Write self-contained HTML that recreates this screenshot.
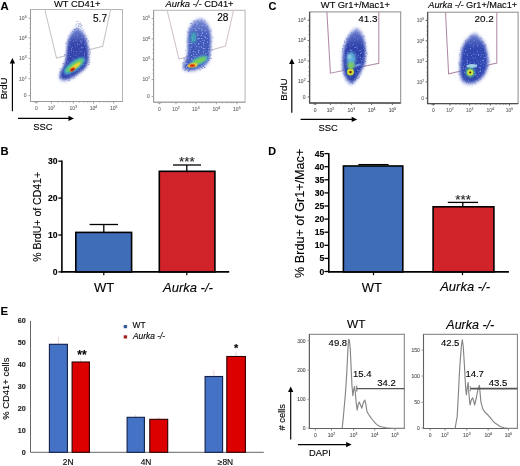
<!DOCTYPE html>
<html><head><meta charset="utf-8"><title>Figure</title>
<style>
html,body{margin:0;padding:0;background:#fff;}
body{width:520px;height:466px;overflow:hidden;}
svg{display:block;filter:blur(0.3px);}
text{font-family:"Liberation Sans", sans-serif;}
</style></head>
<body>
<svg width="520" height="466" viewBox="0 0 520 466">
<rect width="520" height="466" fill="#fff"/>
<text x="0.6" y="9.5" font-size="11.3" font-weight="bold" fill="#000" stroke="#000" stroke-width="0.12">A</text>
<text x="0.6" y="155.0" font-size="11.2" font-weight="bold" fill="#000" stroke="#000" stroke-width="0.12">B</text>
<text x="268.6" y="10.3" font-size="11" font-weight="bold" fill="#000" stroke="#000" stroke-width="0.12">C</text>
<text x="268.2" y="155.3" font-size="10.8" font-weight="bold" fill="#000" stroke="#000" stroke-width="0.12">D</text>
<text x="0.6" y="315.2" font-size="11.4" font-weight="bold" fill="#000" stroke="#000" stroke-width="0.12">E</text>
<rect x="30.5" y="9.5" width="92.0" height="92.0" fill="none" stroke="#b4b4b4" stroke-width="1"/>
<polyline points="30.5,9.5 30.5,101.5 122.5,101.5" fill="none" stroke="#9a9a9a" stroke-width="1.0"/>
<text x="22.8" y="20.0" font-size="5.0" fill="#707070" text-anchor="middle" stroke="#707070" stroke-width="0.12">10<tspan font-size="3.40" dy="-2">5</tspan></text>
<line x1="28.5" y1="18.2" x2="30.5" y2="18.2" stroke="#999" stroke-width="0.9"/>
<text x="22.8" y="39.699999999999996" font-size="5.0" fill="#707070" text-anchor="middle" stroke="#707070" stroke-width="0.12">10<tspan font-size="3.40" dy="-2">4</tspan></text>
<line x1="28.5" y1="37.9" x2="30.5" y2="37.9" stroke="#999" stroke-width="0.9"/>
<text x="22.8" y="60.099999999999994" font-size="5.0" fill="#707070" text-anchor="middle" stroke="#707070" stroke-width="0.12">10<tspan font-size="3.40" dy="-2">3</tspan></text>
<line x1="28.5" y1="58.3" x2="30.5" y2="58.3" stroke="#999" stroke-width="0.9"/>
<text x="22.8" y="80.5" font-size="5.0" fill="#707070" text-anchor="middle" stroke="#707070" stroke-width="0.12">10<tspan font-size="3.40" dy="-2">2</tspan></text>
<line x1="28.5" y1="78.7" x2="30.5" y2="78.7" stroke="#999" stroke-width="0.9"/>
<text x="25.1" y="97.39999999999999" font-size="5.0" fill="#707070" text-anchor="middle" stroke="#707070" stroke-width="0.12">0</text>
<line x1="28.5" y1="95.6" x2="30.5" y2="95.6" stroke="#999" stroke-width="0.9"/>
<line x1="29.3" y1="24.1" x2="30.5" y2="24.1" stroke="#999" stroke-width="0.6"/>
<line x1="29.3" y1="28.4" x2="30.5" y2="28.4" stroke="#999" stroke-width="0.6"/>
<line x1="29.3" y1="32.0" x2="30.5" y2="32.0" stroke="#999" stroke-width="0.6"/>
<line x1="29.3" y1="44.0" x2="30.5" y2="44.0" stroke="#999" stroke-width="0.6"/>
<line x1="29.3" y1="48.5" x2="30.5" y2="48.5" stroke="#999" stroke-width="0.6"/>
<line x1="29.3" y1="52.2" x2="30.5" y2="52.2" stroke="#999" stroke-width="0.6"/>
<line x1="29.3" y1="64.4" x2="30.5" y2="64.4" stroke="#999" stroke-width="0.6"/>
<line x1="29.3" y1="68.9" x2="30.5" y2="68.9" stroke="#999" stroke-width="0.6"/>
<line x1="29.3" y1="72.6" x2="30.5" y2="72.6" stroke="#999" stroke-width="0.6"/>
<text x="36.3" y="110.39999999999999" font-size="5.0" fill="#707070" text-anchor="middle" stroke="#707070" stroke-width="0.12">0</text>
<line x1="36.3" y1="101.5" x2="36.3" y2="103.5" stroke="#999" stroke-width="0.9"/>
<text x="51.4" y="110.39999999999999" font-size="5.0" fill="#707070" text-anchor="middle" stroke="#707070" stroke-width="0.12">10<tspan font-size="3.40" dy="-2">2</tspan></text>
<line x1="51.4" y1="101.5" x2="51.4" y2="103.5" stroke="#999" stroke-width="0.9"/>
<text x="73.3" y="110.39999999999999" font-size="5.0" fill="#707070" text-anchor="middle" stroke="#707070" stroke-width="0.12">10<tspan font-size="3.40" dy="-2">3</tspan></text>
<line x1="73.3" y1="101.5" x2="73.3" y2="103.5" stroke="#999" stroke-width="0.9"/>
<text x="93.5" y="110.39999999999999" font-size="5.0" fill="#707070" text-anchor="middle" stroke="#707070" stroke-width="0.12">10<tspan font-size="3.40" dy="-2">4</tspan></text>
<line x1="93.5" y1="101.5" x2="93.5" y2="103.5" stroke="#999" stroke-width="0.9"/>
<text x="113.7" y="110.39999999999999" font-size="5.0" fill="#707070" text-anchor="middle" stroke="#707070" stroke-width="0.12">10<tspan font-size="3.40" dy="-2">5</tspan></text>
<line x1="113.7" y1="101.5" x2="113.7" y2="103.5" stroke="#999" stroke-width="0.9"/>
<line x1="58.0" y1="101.5" x2="58.0" y2="102.7" stroke="#999" stroke-width="0.6"/>
<line x1="62.8" y1="101.5" x2="62.8" y2="102.7" stroke="#999" stroke-width="0.6"/>
<line x1="66.7" y1="101.5" x2="66.7" y2="102.7" stroke="#999" stroke-width="0.6"/>
<line x1="69.4" y1="101.5" x2="69.4" y2="102.7" stroke="#999" stroke-width="0.6"/>
<line x1="79.4" y1="101.5" x2="79.4" y2="102.7" stroke="#999" stroke-width="0.6"/>
<line x1="83.8" y1="101.5" x2="83.8" y2="102.7" stroke="#999" stroke-width="0.6"/>
<line x1="87.4" y1="101.5" x2="87.4" y2="102.7" stroke="#999" stroke-width="0.6"/>
<line x1="89.9" y1="101.5" x2="89.9" y2="102.7" stroke="#999" stroke-width="0.6"/>
<line x1="99.6" y1="101.5" x2="99.6" y2="102.7" stroke="#999" stroke-width="0.6"/>
<line x1="104.0" y1="101.5" x2="104.0" y2="102.7" stroke="#999" stroke-width="0.6"/>
<line x1="107.6" y1="101.5" x2="107.6" y2="102.7" stroke="#999" stroke-width="0.6"/>
<line x1="110.1" y1="101.5" x2="110.1" y2="102.7" stroke="#999" stroke-width="0.6"/>
<line x1="34.8" y1="101.5" x2="34.8" y2="102.9" stroke="#999" stroke-width="0.6"/>
<line x1="35.7" y1="101.5" x2="35.7" y2="102.9" stroke="#999" stroke-width="0.6"/>
<line x1="36.6" y1="101.5" x2="36.6" y2="102.9" stroke="#999" stroke-width="0.6"/>
<line x1="37.5" y1="101.5" x2="37.5" y2="102.9" stroke="#999" stroke-width="0.6"/>
<polyline points="44.8,9.5 56.5,58.1 102.7,46.2 110.6,9.5" fill="none" stroke="#c4c4c4" stroke-width="1.05"/>
<rect x="153.6" y="10.3" width="91.5" height="91.9" fill="none" stroke="#b4b4b4" stroke-width="1"/>
<polyline points="153.6,10.3 153.6,102.2 245.1,102.2" fill="none" stroke="#9a9a9a" stroke-width="1.0"/>
<text x="146.2" y="20.400000000000002" font-size="5.0" fill="#707070" text-anchor="middle" stroke="#707070" stroke-width="0.12">10<tspan font-size="3.40" dy="-2">5</tspan></text>
<line x1="151.6" y1="18.6" x2="153.6" y2="18.6" stroke="#999" stroke-width="0.9"/>
<text x="146.2" y="40.599999999999994" font-size="5.0" fill="#707070" text-anchor="middle" stroke="#707070" stroke-width="0.12">10<tspan font-size="3.40" dy="-2">4</tspan></text>
<line x1="151.6" y1="38.8" x2="153.6" y2="38.8" stroke="#999" stroke-width="0.9"/>
<text x="146.2" y="61.0" font-size="5.0" fill="#707070" text-anchor="middle" stroke="#707070" stroke-width="0.12">10<tspan font-size="3.40" dy="-2">3</tspan></text>
<line x1="151.6" y1="59.2" x2="153.6" y2="59.2" stroke="#999" stroke-width="0.9"/>
<text x="146.2" y="81.39999999999999" font-size="5.0" fill="#707070" text-anchor="middle" stroke="#707070" stroke-width="0.12">10<tspan font-size="3.40" dy="-2">2</tspan></text>
<line x1="151.6" y1="79.6" x2="153.6" y2="79.6" stroke="#999" stroke-width="0.9"/>
<text x="148.5" y="98.2" font-size="5.0" fill="#707070" text-anchor="middle" stroke="#707070" stroke-width="0.12">0</text>
<line x1="151.6" y1="96.4" x2="153.6" y2="96.4" stroke="#999" stroke-width="0.9"/>
<line x1="152.4" y1="24.7" x2="153.6" y2="24.7" stroke="#999" stroke-width="0.6"/>
<line x1="152.4" y1="29.1" x2="153.6" y2="29.1" stroke="#999" stroke-width="0.6"/>
<line x1="152.4" y1="32.7" x2="153.6" y2="32.7" stroke="#999" stroke-width="0.6"/>
<line x1="152.4" y1="44.9" x2="153.6" y2="44.9" stroke="#999" stroke-width="0.6"/>
<line x1="152.4" y1="49.4" x2="153.6" y2="49.4" stroke="#999" stroke-width="0.6"/>
<line x1="152.4" y1="53.1" x2="153.6" y2="53.1" stroke="#999" stroke-width="0.6"/>
<line x1="152.4" y1="65.3" x2="153.6" y2="65.3" stroke="#999" stroke-width="0.6"/>
<line x1="152.4" y1="69.8" x2="153.6" y2="69.8" stroke="#999" stroke-width="0.6"/>
<line x1="152.4" y1="73.5" x2="153.6" y2="73.5" stroke="#999" stroke-width="0.6"/>
<text x="159.5" y="111.1" font-size="5.0" fill="#707070" text-anchor="middle" stroke="#707070" stroke-width="0.12">0</text>
<line x1="159.5" y1="102.2" x2="159.5" y2="104.2" stroke="#999" stroke-width="0.9"/>
<text x="176.0" y="111.1" font-size="5.0" fill="#707070" text-anchor="middle" stroke="#707070" stroke-width="0.12">10<tspan font-size="3.40" dy="-2">2</tspan></text>
<line x1="176.0" y1="102.2" x2="176.0" y2="104.2" stroke="#999" stroke-width="0.9"/>
<text x="195.8" y="111.1" font-size="5.0" fill="#707070" text-anchor="middle" stroke="#707070" stroke-width="0.12">10<tspan font-size="3.40" dy="-2">3</tspan></text>
<line x1="195.8" y1="102.2" x2="195.8" y2="104.2" stroke="#999" stroke-width="0.9"/>
<text x="216.3" y="111.1" font-size="5.0" fill="#707070" text-anchor="middle" stroke="#707070" stroke-width="0.12">10<tspan font-size="3.40" dy="-2">4</tspan></text>
<line x1="216.3" y1="102.2" x2="216.3" y2="104.2" stroke="#999" stroke-width="0.9"/>
<text x="236.8" y="111.1" font-size="5.0" fill="#707070" text-anchor="middle" stroke="#707070" stroke-width="0.12">10<tspan font-size="3.40" dy="-2">5</tspan></text>
<line x1="236.8" y1="102.2" x2="236.8" y2="104.2" stroke="#999" stroke-width="0.9"/>
<line x1="181.9" y1="102.2" x2="181.9" y2="103.4" stroke="#999" stroke-width="0.6"/>
<line x1="186.3" y1="102.2" x2="186.3" y2="103.4" stroke="#999" stroke-width="0.6"/>
<line x1="189.9" y1="102.2" x2="189.9" y2="103.4" stroke="#999" stroke-width="0.6"/>
<line x1="192.2" y1="102.2" x2="192.2" y2="103.4" stroke="#999" stroke-width="0.6"/>
<line x1="202.0" y1="102.2" x2="202.0" y2="103.4" stroke="#999" stroke-width="0.6"/>
<line x1="206.5" y1="102.2" x2="206.5" y2="103.4" stroke="#999" stroke-width="0.6"/>
<line x1="210.2" y1="102.2" x2="210.2" y2="103.4" stroke="#999" stroke-width="0.6"/>
<line x1="212.6" y1="102.2" x2="212.6" y2="103.4" stroke="#999" stroke-width="0.6"/>
<line x1="222.5" y1="102.2" x2="222.5" y2="103.4" stroke="#999" stroke-width="0.6"/>
<line x1="227.0" y1="102.2" x2="227.0" y2="103.4" stroke="#999" stroke-width="0.6"/>
<line x1="230.7" y1="102.2" x2="230.7" y2="103.4" stroke="#999" stroke-width="0.6"/>
<line x1="233.1" y1="102.2" x2="233.1" y2="103.4" stroke="#999" stroke-width="0.6"/>
<line x1="158.0" y1="102.2" x2="158.0" y2="103.60000000000001" stroke="#999" stroke-width="0.6"/>
<line x1="158.9" y1="102.2" x2="158.9" y2="103.60000000000001" stroke="#999" stroke-width="0.6"/>
<line x1="159.8" y1="102.2" x2="159.8" y2="103.60000000000001" stroke="#999" stroke-width="0.6"/>
<line x1="160.7" y1="102.2" x2="160.7" y2="103.60000000000001" stroke="#999" stroke-width="0.6"/>
<polyline points="167.2,10.3 178.9,59 225.5,46 233.5,10.3" fill="none" stroke="#d2c2ce" stroke-width="1.05"/>
<rect x="309.6" y="11.9" width="91.09999999999997" height="91.1" fill="none" stroke="#8a8a8a" stroke-width="1"/>
<polyline points="309.6,11.9 309.6,103.0 400.7,103.0" fill="none" stroke="#505050" stroke-width="1.3"/>
<text x="301.8" y="22.0" font-size="5.0" fill="#606060" text-anchor="middle" stroke="#606060" stroke-width="0.12">10<tspan font-size="3.40" dy="-2">5</tspan></text>
<line x1="307.6" y1="20.2" x2="309.6" y2="20.2" stroke="#555" stroke-width="0.9"/>
<text x="301.8" y="42.4" font-size="5.0" fill="#606060" text-anchor="middle" stroke="#606060" stroke-width="0.12">10<tspan font-size="3.40" dy="-2">4</tspan></text>
<line x1="307.6" y1="40.6" x2="309.6" y2="40.6" stroke="#555" stroke-width="0.9"/>
<text x="301.8" y="62.8" font-size="5.0" fill="#606060" text-anchor="middle" stroke="#606060" stroke-width="0.12">10<tspan font-size="3.40" dy="-2">3</tspan></text>
<line x1="307.6" y1="61.0" x2="309.6" y2="61.0" stroke="#555" stroke-width="0.9"/>
<text x="301.8" y="83.3" font-size="5.0" fill="#606060" text-anchor="middle" stroke="#606060" stroke-width="0.12">10<tspan font-size="3.40" dy="-2">2</tspan></text>
<line x1="307.6" y1="81.5" x2="309.6" y2="81.5" stroke="#555" stroke-width="0.9"/>
<text x="304.1" y="98.7" font-size="5.0" fill="#606060" text-anchor="middle" stroke="#606060" stroke-width="0.12">0</text>
<line x1="307.6" y1="96.9" x2="309.6" y2="96.9" stroke="#555" stroke-width="0.9"/>
<line x1="308.40000000000003" y1="26.3" x2="309.6" y2="26.3" stroke="#555" stroke-width="0.6"/>
<line x1="308.40000000000003" y1="30.8" x2="309.6" y2="30.8" stroke="#555" stroke-width="0.6"/>
<line x1="308.40000000000003" y1="34.5" x2="309.6" y2="34.5" stroke="#555" stroke-width="0.6"/>
<line x1="308.40000000000003" y1="46.7" x2="309.6" y2="46.7" stroke="#555" stroke-width="0.6"/>
<line x1="308.40000000000003" y1="51.2" x2="309.6" y2="51.2" stroke="#555" stroke-width="0.6"/>
<line x1="308.40000000000003" y1="54.9" x2="309.6" y2="54.9" stroke="#555" stroke-width="0.6"/>
<line x1="308.40000000000003" y1="67.2" x2="309.6" y2="67.2" stroke="#555" stroke-width="0.6"/>
<line x1="308.40000000000003" y1="71.7" x2="309.6" y2="71.7" stroke="#555" stroke-width="0.6"/>
<line x1="308.40000000000003" y1="75.3" x2="309.6" y2="75.3" stroke="#555" stroke-width="0.6"/>
<text x="315.2" y="112.2" font-size="5.0" fill="#606060" text-anchor="middle" stroke="#606060" stroke-width="0.12">0</text>
<line x1="315.2" y1="103.0" x2="315.2" y2="105.0" stroke="#555" stroke-width="0.9"/>
<text x="330.4" y="112.2" font-size="5.0" fill="#606060" text-anchor="middle" stroke="#606060" stroke-width="0.12">10<tspan font-size="3.40" dy="-2">2</tspan></text>
<line x1="330.4" y1="103.0" x2="330.4" y2="105.0" stroke="#555" stroke-width="0.9"/>
<text x="351.3" y="112.2" font-size="5.0" fill="#606060" text-anchor="middle" stroke="#606060" stroke-width="0.12">10<tspan font-size="3.40" dy="-2">3</tspan></text>
<line x1="351.3" y1="103.0" x2="351.3" y2="105.0" stroke="#555" stroke-width="0.9"/>
<text x="371.6" y="112.2" font-size="5.0" fill="#606060" text-anchor="middle" stroke="#606060" stroke-width="0.12">10<tspan font-size="3.40" dy="-2">4</tspan></text>
<line x1="371.6" y1="103.0" x2="371.6" y2="105.0" stroke="#555" stroke-width="0.9"/>
<text x="392.4" y="112.2" font-size="5.0" fill="#606060" text-anchor="middle" stroke="#606060" stroke-width="0.12">10<tspan font-size="3.40" dy="-2">5</tspan></text>
<line x1="392.4" y1="103.0" x2="392.4" y2="105.0" stroke="#555" stroke-width="0.9"/>
<line x1="336.7" y1="103.0" x2="336.7" y2="104.2" stroke="#555" stroke-width="0.6"/>
<line x1="341.3" y1="103.0" x2="341.3" y2="104.2" stroke="#555" stroke-width="0.6"/>
<line x1="345.0" y1="103.0" x2="345.0" y2="104.2" stroke="#555" stroke-width="0.6"/>
<line x1="347.5" y1="103.0" x2="347.5" y2="104.2" stroke="#555" stroke-width="0.6"/>
<line x1="357.4" y1="103.0" x2="357.4" y2="104.2" stroke="#555" stroke-width="0.6"/>
<line x1="361.9" y1="103.0" x2="361.9" y2="104.2" stroke="#555" stroke-width="0.6"/>
<line x1="365.5" y1="103.0" x2="365.5" y2="104.2" stroke="#555" stroke-width="0.6"/>
<line x1="367.9" y1="103.0" x2="367.9" y2="104.2" stroke="#555" stroke-width="0.6"/>
<line x1="377.8" y1="103.0" x2="377.8" y2="104.2" stroke="#555" stroke-width="0.6"/>
<line x1="382.4" y1="103.0" x2="382.4" y2="104.2" stroke="#555" stroke-width="0.6"/>
<line x1="386.2" y1="103.0" x2="386.2" y2="104.2" stroke="#555" stroke-width="0.6"/>
<line x1="388.7" y1="103.0" x2="388.7" y2="104.2" stroke="#555" stroke-width="0.6"/>
<line x1="313.7" y1="103.0" x2="313.7" y2="104.4" stroke="#555" stroke-width="0.6"/>
<line x1="314.6" y1="103.0" x2="314.6" y2="104.4" stroke="#555" stroke-width="0.6"/>
<line x1="315.5" y1="103.0" x2="315.5" y2="104.4" stroke="#555" stroke-width="0.6"/>
<line x1="316.4" y1="103.0" x2="316.4" y2="104.4" stroke="#555" stroke-width="0.6"/>
<polyline points="326.9,11.9 330.4,73.2 378.8,63.3 378.8,11.9" fill="none" stroke="#b08aa8" stroke-width="1.05"/>
<rect x="427.6" y="12.2" width="90.5" height="91.39999999999999" fill="none" stroke="#8a8a8a" stroke-width="1"/>
<polyline points="427.6,12.2 427.6,103.6 518.1,103.6" fill="none" stroke="#505050" stroke-width="1.3"/>
<text x="420.4" y="22.2" font-size="5.0" fill="#707070" text-anchor="middle" stroke="#707070" stroke-width="0.12">10<tspan font-size="3.40" dy="-2">5</tspan></text>
<line x1="425.6" y1="20.4" x2="427.6" y2="20.4" stroke="#555" stroke-width="0.9"/>
<text x="420.4" y="42.599999999999994" font-size="5.0" fill="#707070" text-anchor="middle" stroke="#707070" stroke-width="0.12">10<tspan font-size="3.40" dy="-2">4</tspan></text>
<line x1="425.6" y1="40.8" x2="427.6" y2="40.8" stroke="#555" stroke-width="0.9"/>
<text x="420.4" y="63.199999999999996" font-size="5.0" fill="#707070" text-anchor="middle" stroke="#707070" stroke-width="0.12">10<tspan font-size="3.40" dy="-2">3</tspan></text>
<line x1="425.6" y1="61.4" x2="427.6" y2="61.4" stroke="#555" stroke-width="0.9"/>
<text x="420.4" y="83.7" font-size="5.0" fill="#707070" text-anchor="middle" stroke="#707070" stroke-width="0.12">10<tspan font-size="3.40" dy="-2">2</tspan></text>
<line x1="425.6" y1="81.9" x2="427.6" y2="81.9" stroke="#555" stroke-width="0.9"/>
<text x="422.7" y="100.0" font-size="5.0" fill="#707070" text-anchor="middle" stroke="#707070" stroke-width="0.12">0</text>
<line x1="425.6" y1="98.2" x2="427.6" y2="98.2" stroke="#555" stroke-width="0.9"/>
<line x1="426.40000000000003" y1="26.5" x2="427.6" y2="26.5" stroke="#555" stroke-width="0.6"/>
<line x1="426.40000000000003" y1="31.0" x2="427.6" y2="31.0" stroke="#555" stroke-width="0.6"/>
<line x1="426.40000000000003" y1="34.7" x2="427.6" y2="34.7" stroke="#555" stroke-width="0.6"/>
<line x1="426.40000000000003" y1="47.0" x2="427.6" y2="47.0" stroke="#555" stroke-width="0.6"/>
<line x1="426.40000000000003" y1="51.5" x2="427.6" y2="51.5" stroke="#555" stroke-width="0.6"/>
<line x1="426.40000000000003" y1="55.2" x2="427.6" y2="55.2" stroke="#555" stroke-width="0.6"/>
<line x1="426.40000000000003" y1="67.5" x2="427.6" y2="67.5" stroke="#555" stroke-width="0.6"/>
<line x1="426.40000000000003" y1="72.1" x2="427.6" y2="72.1" stroke="#555" stroke-width="0.6"/>
<line x1="426.40000000000003" y1="75.8" x2="427.6" y2="75.8" stroke="#555" stroke-width="0.6"/>
<text x="433.3" y="112.2" font-size="5.0" fill="#707070" text-anchor="middle" stroke="#707070" stroke-width="0.12">0</text>
<line x1="433.3" y1="103.6" x2="433.3" y2="105.6" stroke="#555" stroke-width="0.9"/>
<text x="450.0" y="112.2" font-size="5.0" fill="#707070" text-anchor="middle" stroke="#707070" stroke-width="0.12">10<tspan font-size="3.40" dy="-2">2</tspan></text>
<line x1="450.0" y1="103.6" x2="450.0" y2="105.6" stroke="#555" stroke-width="0.9"/>
<text x="469.7" y="112.2" font-size="5.0" fill="#707070" text-anchor="middle" stroke="#707070" stroke-width="0.12">10<tspan font-size="3.40" dy="-2">3</tspan></text>
<line x1="469.7" y1="103.6" x2="469.7" y2="105.6" stroke="#555" stroke-width="0.9"/>
<text x="490.3" y="112.2" font-size="5.0" fill="#707070" text-anchor="middle" stroke="#707070" stroke-width="0.12">10<tspan font-size="3.40" dy="-2">4</tspan></text>
<line x1="490.3" y1="103.6" x2="490.3" y2="105.6" stroke="#555" stroke-width="0.9"/>
<text x="509.5" y="112.2" font-size="5.0" fill="#707070" text-anchor="middle" stroke="#707070" stroke-width="0.12">10<tspan font-size="3.40" dy="-2">5</tspan></text>
<line x1="509.5" y1="103.6" x2="509.5" y2="105.6" stroke="#555" stroke-width="0.9"/>
<line x1="455.9" y1="103.6" x2="455.9" y2="104.8" stroke="#555" stroke-width="0.6"/>
<line x1="460.2" y1="103.6" x2="460.2" y2="104.8" stroke="#555" stroke-width="0.6"/>
<line x1="463.8" y1="103.6" x2="463.8" y2="104.8" stroke="#555" stroke-width="0.6"/>
<line x1="466.2" y1="103.6" x2="466.2" y2="104.8" stroke="#555" stroke-width="0.6"/>
<line x1="475.9" y1="103.6" x2="475.9" y2="104.8" stroke="#555" stroke-width="0.6"/>
<line x1="480.4" y1="103.6" x2="480.4" y2="104.8" stroke="#555" stroke-width="0.6"/>
<line x1="484.1" y1="103.6" x2="484.1" y2="104.8" stroke="#555" stroke-width="0.6"/>
<line x1="486.6" y1="103.6" x2="486.6" y2="104.8" stroke="#555" stroke-width="0.6"/>
<line x1="496.1" y1="103.6" x2="496.1" y2="104.8" stroke="#555" stroke-width="0.6"/>
<line x1="500.3" y1="103.6" x2="500.3" y2="104.8" stroke="#555" stroke-width="0.6"/>
<line x1="503.7" y1="103.6" x2="503.7" y2="104.8" stroke="#555" stroke-width="0.6"/>
<line x1="506.0" y1="103.6" x2="506.0" y2="104.8" stroke="#555" stroke-width="0.6"/>
<line x1="431.8" y1="103.6" x2="431.8" y2="105.0" stroke="#555" stroke-width="0.6"/>
<line x1="432.7" y1="103.6" x2="432.7" y2="105.0" stroke="#555" stroke-width="0.6"/>
<line x1="433.6" y1="103.6" x2="433.6" y2="105.0" stroke="#555" stroke-width="0.6"/>
<line x1="434.5" y1="103.6" x2="434.5" y2="105.0" stroke="#555" stroke-width="0.6"/>
<polyline points="445.5,12.2 448.6,73.8 496.8,63 496.8,12.2" fill="none" stroke="#b08aa8" stroke-width="1.05"/>
<text x="54" y="7.4" font-size="9.4" fill="#000" stroke="#000" stroke-width="0.12">WT CD41+</text>
<text x="165.6" y="7.4" font-size="9.4" stroke="#000" stroke-width="0.12"><tspan font-style="italic">Aurka -/-</tspan> CD41+</text>
<text x="320.8" y="8.1" font-size="9.4" fill="#000" stroke="#000" stroke-width="0.12">WT Gr1+/Mac1+</text>
<text x="428.3" y="8.0" font-size="9.2" stroke="#000" stroke-width="0.12"><tspan font-style="italic">Aurka -/-</tspan> Gr1+/Mac1+</text>
<text x="93.0" y="21.5" font-size="10.1" fill="#000" stroke="#000" stroke-width="0.12">5.7</text>
<text x="217.2" y="21.4" font-size="10.1" fill="#000" stroke="#000" stroke-width="0.12">28</text>
<text x="358.2" y="22.3" font-size="9.9" fill="#000" stroke="#000" stroke-width="0.12">41.3</text>
<text x="474.6" y="22.2" font-size="9.9" fill="#000" stroke="#000" stroke-width="0.12">20.2</text>
<line x1="12.4" y1="111.2" x2="12.4" y2="63.0" stroke="#000" stroke-width="1.15"/>
<polygon points="12.4,58.0 9.7,63.5 15.100000000000001,63.5" fill="#000"/>
<line x1="18.0" y1="118.4" x2="69.0" y2="118.4" stroke="#000" stroke-width="1.15"/>
<polygon points="74.0,118.4 68.5,115.7 68.5,121.10000000000001" fill="#000"/>
<text transform="translate(7.3,88.4) rotate(-90)" font-size="9.6" text-anchor="middle" stroke="#000" stroke-width="0.12">BrdU</text>
<text x="42.9" y="130.0" font-size="9.4" text-anchor="middle" fill="#000" stroke="#000" stroke-width="0.12">SSC</text>
<line x1="291.8" y1="112.7" x2="291.8" y2="63.599999999999994" stroke="#000" stroke-width="1.15"/>
<polygon points="291.8,58.6 289.1,64.1 294.5,64.1" fill="#000"/>
<line x1="300.6" y1="119.4" x2="352.2" y2="119.4" stroke="#000" stroke-width="1.15"/>
<polygon points="357.2,119.4 351.7,116.7 351.7,122.10000000000001" fill="#000"/>
<text transform="translate(286.9,89.5) rotate(-90)" font-size="9.9" text-anchor="middle" stroke="#000" stroke-width="0.12">BrdU</text>
<text x="328.1" y="131.3" font-size="9.4" text-anchor="middle" fill="#000" stroke="#000" stroke-width="0.12">SSC</text>
<defs>
<filter id="b0" x="-50%" y="-50%" width="200%" height="200%"><feGaussianBlur stdDeviation="1.1"/></filter>
<filter id="b1" x="-50%" y="-50%" width="200%" height="200%"><feGaussianBlur stdDeviation="1.6"/></filter>
<filter id="b2" x="-50%" y="-50%" width="200%" height="200%"><feGaussianBlur stdDeviation="1.0"/></filter>
<filter id="spk" x="-30%" y="-30%" width="160%" height="160%" color-interpolation-filters="sRGB">
<feGaussianBlur in="SourceGraphic" stdDeviation="1.0" result="bl"/>
<feTurbulence type="fractalNoise" baseFrequency="0.6" numOctaves="2" seed="4" result="nz"/>
<feColorMatrix in="nz" type="matrix" values="0 0 0 0 0.56  0 0 0 0 0.62  0 0 0 0 0.90  0 0 0 -5 2.35" result="wn"/>
<feComposite in="wn" in2="bl" operator="in" result="wnc"/>
<feMerge><feMergeNode in="bl"/><feMergeNode in="wnc"/></feMerge>
</filter>
<filter id="spk2" x="-30%" y="-30%" width="160%" height="160%" color-interpolation-filters="sRGB">
<feGaussianBlur in="SourceGraphic" stdDeviation="1.2" result="bl"/>
<feTurbulence type="fractalNoise" baseFrequency="0.7" numOctaves="2" seed="9" result="nz"/>
<feColorMatrix in="nz" type="matrix" values="0 0 0 0 0.45  0 0 0 0 0.52  0 0 0 0 0.85  0 0 0 -6 2.5" result="wn"/>
<feComposite in="wn" in2="bl" operator="in" result="wnc"/>
<feMerge><feMergeNode in="bl"/><feMergeNode in="wnc"/></feMerge>
</filter>
<linearGradient id="gA1" gradientUnits="userSpaceOnUse" x1="0" y1="29" x2="0" y2="44"><stop offset="0" stop-color="#7082d0"/><stop offset="1" stop-color="#3444aa"/></linearGradient>
<linearGradient id="gA2" gradientUnits="userSpaceOnUse" x1="0" y1="19" x2="0" y2="36"><stop offset="0" stop-color="#7a8cd4"/><stop offset="1" stop-color="#4058b8"/></linearGradient>
<linearGradient id="gC1" gradientUnits="userSpaceOnUse" x1="0" y1="30" x2="0" y2="46"><stop offset="0" stop-color="#6a7ccc"/><stop offset="1" stop-color="#2f42aa"/></linearGradient>
<linearGradient id="gC2" gradientUnits="userSpaceOnUse" x1="0" y1="34" x2="0" y2="48"><stop offset="0" stop-color="#6a7ccc"/><stop offset="1" stop-color="#3046b0"/></linearGradient>
<filter id="b3" x="-50%" y="-50%" width="200%" height="200%"><feGaussianBlur stdDeviation="0.6"/></filter>
</defs>
<circle cx="68.6" cy="35.6" r="0.5" fill="#9aa6dc"/><circle cx="59.7" cy="72.0" r="0.5" fill="#7a88d0"/><circle cx="74.5" cy="29.4" r="0.5" fill="#5a6cc4"/><circle cx="87.9" cy="47.0" r="0.5" fill="#7a88d0"/><circle cx="66.0" cy="58.6" r="0.5" fill="#9aa6dc"/><circle cx="88.2" cy="50.3" r="0.5" fill="#9aa6dc"/><circle cx="69.3" cy="78.5" r="0.5" fill="#5a6cc4"/><circle cx="60.0" cy="69.1" r="0.5" fill="#7a88d0"/><circle cx="63.0" cy="63.2" r="0.5" fill="#7a88d0"/><circle cx="59.8" cy="76.2" r="0.5" fill="#9aa6dc"/><circle cx="71.0" cy="33.0" r="0.5" fill="#9aa6dc"/><circle cx="89.9" cy="51.3" r="0.5" fill="#7a88d0"/><circle cx="58.9" cy="74.9" r="0.5" fill="#9aa6dc"/><circle cx="89.0" cy="60.1" r="0.5" fill="#5a6cc4"/><circle cx="90.2" cy="52.7" r="0.5" fill="#5a6cc4"/><circle cx="88.9" cy="47.0" r="0.5" fill="#9aa6dc"/><circle cx="75.6" cy="28.9" r="0.5" fill="#9aa6dc"/><circle cx="74.8" cy="76.7" r="0.5" fill="#5a6cc4"/><circle cx="67.1" cy="41.5" r="0.5" fill="#9aa6dc"/><circle cx="69.4" cy="80.3" r="0.5" fill="#7a88d0"/><circle cx="89.5" cy="48.9" r="0.5" fill="#5a6cc4"/><circle cx="82.1" cy="32.0" r="0.5" fill="#7a88d0"/><circle cx="84.2" cy="35.3" r="0.5" fill="#9aa6dc"/><circle cx="89.5" cy="62.7" r="0.5" fill="#9aa6dc"/><circle cx="65.0" cy="54.6" r="0.5" fill="#9aa6dc"/><circle cx="68.6" cy="80.3" r="0.5" fill="#9aa6dc"/><circle cx="73.5" cy="78.5" r="0.5" fill="#9aa6dc"/><circle cx="86.9" cy="38.4" r="0.5" fill="#5a6cc4"/><circle cx="72.4" cy="31.3" r="0.5" fill="#7a88d0"/><circle cx="63.4" cy="63.7" r="0.5" fill="#7a88d0"/><circle cx="60.4" cy="78.4" r="0.5" fill="#9aa6dc"/><circle cx="78.2" cy="29.7" r="0.5" fill="#9aa6dc"/><circle cx="73.4" cy="78.2" r="0.5" fill="#7a88d0"/><circle cx="68.0" cy="39.1" r="0.5" fill="#7a88d0"/><circle cx="60.8" cy="73.1" r="0.5" fill="#9aa6dc"/><circle cx="65.9" cy="43.3" r="0.5" fill="#5a6cc4"/><circle cx="86.6" cy="39.2" r="0.5" fill="#7a88d0"/><circle cx="64.6" cy="54.8" r="0.5" fill="#7a88d0"/><circle cx="61.0" cy="71.8" r="0.5" fill="#7a88d0"/><circle cx="65.6" cy="59.2" r="0.5" fill="#9aa6dc"/><circle cx="85.7" cy="35.8" r="0.5" fill="#9aa6dc"/><circle cx="89.0" cy="62.3" r="0.5" fill="#7a88d0"/><circle cx="89.6" cy="54.2" r="0.5" fill="#5a6cc4"/><circle cx="60.6" cy="76.8" r="0.5" fill="#5a6cc4"/><circle cx="76.4" cy="28.1" r="0.5" fill="#7a88d0"/><circle cx="88.8" cy="64.4" r="0.5" fill="#5a6cc4"/><circle cx="88.3" cy="40.9" r="0.5" fill="#5a6cc4"/><circle cx="83.1" cy="70.0" r="0.5" fill="#5a6cc4"/><circle cx="88.5" cy="57.2" r="0.5" fill="#9aa6dc"/><circle cx="60.7" cy="78.1" r="0.5" fill="#5a6cc4"/><circle cx="59.7" cy="77.7" r="0.5" fill="#7a88d0"/><circle cx="67.2" cy="41.3" r="0.5" fill="#9aa6dc"/><circle cx="76.5" cy="75.6" r="0.5" fill="#9aa6dc"/><circle cx="73.9" cy="31.4" r="0.5" fill="#9aa6dc"/><circle cx="75.9" cy="29.5" r="0.5" fill="#7a88d0"/>
<circle cx="80.5" cy="23.1" r="0.5" fill="#8a98d8"/><circle cx="80.2" cy="26.4" r="0.5" fill="#6a7cc8"/><circle cx="79.4" cy="24.3" r="0.5" fill="#8a98d8"/><circle cx="78.4" cy="26.7" r="0.5" fill="#8a98d8"/><circle cx="78.0" cy="28.6" r="0.5" fill="#6a7cc8"/><circle cx="76.7" cy="24.1" r="0.5" fill="#6a7cc8"/><circle cx="76.6" cy="28.7" r="0.5" fill="#8a98d8"/><circle cx="77.9" cy="21.5" r="0.5" fill="#8a98d8"/><circle cx="76.6" cy="28.5" r="0.5" fill="#b0bce8"/><circle cx="80.8" cy="24.2" r="0.5" fill="#6a7cc8"/><circle cx="78.7" cy="25.2" r="0.5" fill="#6a7cc8"/><circle cx="83.3" cy="30.0" r="0.5" fill="#8a98d8"/><circle cx="75.9" cy="25.5" r="0.5" fill="#8a98d8"/><circle cx="73.9" cy="29.7" r="0.5" fill="#b0bce8"/><circle cx="74.0" cy="29.2" r="0.5" fill="#6a7cc8"/><circle cx="81.8" cy="27.4" r="0.5" fill="#b0bce8"/><circle cx="81.7" cy="25.5" r="0.5" fill="#6a7cc8"/><circle cx="77.3" cy="30.3" r="0.5" fill="#b0bce8"/><circle cx="78.9" cy="23.4" r="0.5" fill="#6a7cc8"/><circle cx="81.6" cy="25.2" r="0.5" fill="#8a98d8"/><circle cx="78.7" cy="30.1" r="0.5" fill="#8a98d8"/><circle cx="77.0" cy="21.3" r="0.5" fill="#8a98d8"/>
<path d="M77.81,26.92 C79.02,26.92 80.19,27.54 81.44,28.68 C82.69,29.82 84.23,31.76 85.29,33.74 C86.35,35.72 87.18,38.14 87.82,40.56 C88.46,42.98 88.85,45.51 89.14,48.26 C89.43,51.01 89.65,54.49 89.58,57.06 C89.51,59.63 89.29,61.73 88.7,63.66 C88.11,65.58 87.33,67.05 86.06,68.61 C84.80,70.17 82.94,71.58 81.11,73.01 C79.28,74.44 77.08,75.94 75.06,77.19 C73.04,78.44 70.88,79.72 69.01,80.49 C67.14,81.26 65.33,81.83 63.84,81.81 C62.36,81.79 60.93,81.20 60.1,80.38 C59.27,79.55 58.85,78.27 58.89,76.86 C58.93,75.45 59.59,73.74 60.32,71.91 C61.05,70.08 62.43,68.15 63.29,65.86 C64.15,63.57 64.98,61.09 65.49,58.16 C66.00,55.23 66.02,51.28 66.37,48.26 C66.72,45.23 66.90,42.48 67.58,40.01 C68.26,37.53 69.34,35.30 70.44,33.41 C71.54,31.52 72.95,29.76 74.18,28.68 C75.41,27.60 76.60,26.92 77.81,26.92 Z" fill="#7080d0" filter="url(#b1)" opacity="0.45"/>
<path d="M77.5,29.6 C78.60,29.60 79.67,30.17 80.8,31.2 C81.93,32.23 83.33,34.00 84.3,35.8 C85.27,37.60 86.02,39.80 86.6,42 C87.18,44.20 87.53,46.50 87.8,49 C88.07,51.50 88.27,54.67 88.2,57 C88.13,59.33 87.93,61.25 87.4,63 C86.87,64.75 86.15,66.08 85,67.5 C83.85,68.92 82.17,70.20 80.5,71.5 C78.83,72.80 76.83,74.17 75,75.3 C73.17,76.43 71.20,77.60 69.5,78.3 C67.80,79.00 66.15,79.52 64.8,79.5 C63.45,79.48 62.15,78.95 61.4,78.2 C60.65,77.45 60.27,76.28 60.3,75 C60.33,73.72 60.93,72.17 61.6,70.5 C62.27,68.83 63.52,67.08 64.3,65 C65.08,62.92 65.83,60.67 66.3,58 C66.77,55.33 66.78,51.75 67.1,49 C67.42,46.25 67.58,43.75 68.2,41.5 C68.82,39.25 69.80,37.22 70.8,35.5 C71.80,33.78 73.08,32.18 74.2,31.2 C75.32,30.22 76.40,29.60 77.5,29.6 Z" fill="url(#gA1)" filter="url(#spk2)" opacity="1"/>
<ellipse cx="74.4" cy="65.8" rx="12.6" ry="4.6" transform="rotate(-35.5 74.4 65.8)" fill="#3fa6e0" filter="url(#b2)" opacity="1"/>
<ellipse cx="74.6" cy="65.6" rx="10.8" ry="3.2" transform="rotate(-35.5 74.6 65.6)" fill="#6cd060" filter="url(#b2)" opacity="1"/>
<ellipse cx="75.2" cy="66.3" rx="6.4" ry="1.9" transform="rotate(-35.5 75.2 66.3)" fill="#e8d234" filter="url(#b3)" opacity="1"/>
<ellipse cx="72.5" cy="69.5" rx="3.0" ry="1.6" transform="rotate(-32 72.5 69.5)" fill="#e04a14" filter="url(#b3)" opacity="1"/>
<ellipse cx="72.4" cy="69.6" rx="1.6" ry="1.0" transform="rotate(-30 72.4 69.6)" fill="#b01008" filter="url(#b3)" opacity="1"/>
<circle cx="212.1" cy="49.7" r="0.5" fill="#7a88d0"/><circle cx="187.9" cy="31.8" r="0.5" fill="#9aa6dc"/><circle cx="204.5" cy="67.6" r="0.5" fill="#7a88d0"/><circle cx="194.6" cy="20.8" r="0.5" fill="#9aa6dc"/><circle cx="212.8" cy="37.8" r="0.5" fill="#7a88d0"/><circle cx="211.1" cy="41.6" r="0.5" fill="#7a88d0"/><circle cx="201.6" cy="67.4" r="0.5" fill="#7a88d0"/><circle cx="199.5" cy="68.3" r="0.5" fill="#9aa6dc"/><circle cx="185.5" cy="69.2" r="0.5" fill="#5a6cc4"/><circle cx="182.8" cy="69.0" r="0.5" fill="#7a88d0"/><circle cx="182.7" cy="63.5" r="0.5" fill="#7a88d0"/><circle cx="208.2" cy="60.3" r="0.5" fill="#9aa6dc"/><circle cx="197.5" cy="20.2" r="0.5" fill="#9aa6dc"/><circle cx="184.0" cy="58.8" r="0.5" fill="#5a6cc4"/><circle cx="189.5" cy="70.4" r="0.5" fill="#5a6cc4"/><circle cx="188.0" cy="32.3" r="0.5" fill="#9aa6dc"/><circle cx="187.7" cy="39.9" r="0.5" fill="#9aa6dc"/><circle cx="210.9" cy="54.9" r="0.5" fill="#5a6cc4"/><circle cx="204.8" cy="20.6" r="0.5" fill="#9aa6dc"/><circle cx="212.4" cy="49.8" r="0.5" fill="#9aa6dc"/><circle cx="209.6" cy="57.8" r="0.5" fill="#9aa6dc"/><circle cx="202.0" cy="19.2" r="0.5" fill="#7a88d0"/><circle cx="207.5" cy="26.6" r="0.5" fill="#7a88d0"/><circle cx="210.9" cy="31.2" r="0.5" fill="#7a88d0"/><circle cx="195.7" cy="21.5" r="0.5" fill="#7a88d0"/><circle cx="208.9" cy="60.5" r="0.5" fill="#5a6cc4"/><circle cx="183.3" cy="62.6" r="0.5" fill="#5a6cc4"/><circle cx="197.5" cy="21.5" r="0.5" fill="#9aa6dc"/><circle cx="183.0" cy="66.3" r="0.5" fill="#5a6cc4"/><circle cx="211.2" cy="58.5" r="0.5" fill="#5a6cc4"/><circle cx="187.5" cy="39.1" r="0.5" fill="#9aa6dc"/><circle cx="183.9" cy="67.5" r="0.5" fill="#7a88d0"/><circle cx="201.7" cy="20.3" r="0.5" fill="#7a88d0"/><circle cx="204.6" cy="21.6" r="0.5" fill="#9aa6dc"/><circle cx="211.5" cy="47.0" r="0.5" fill="#9aa6dc"/><circle cx="183.6" cy="65.1" r="0.5" fill="#9aa6dc"/><circle cx="182.6" cy="64.0" r="0.5" fill="#9aa6dc"/><circle cx="184.2" cy="58.8" r="0.5" fill="#9aa6dc"/><circle cx="190.5" cy="23.4" r="0.5" fill="#7a88d0"/><circle cx="200.1" cy="70.0" r="0.5" fill="#9aa6dc"/><circle cx="184.0" cy="60.8" r="0.5" fill="#9aa6dc"/><circle cx="191.8" cy="23.2" r="0.5" fill="#5a6cc4"/><circle cx="209.5" cy="58.5" r="0.5" fill="#5a6cc4"/><circle cx="188.0" cy="32.3" r="0.5" fill="#9aa6dc"/><circle cx="209.3" cy="30.7" r="0.5" fill="#5a6cc4"/><circle cx="185.5" cy="50.3" r="0.5" fill="#9aa6dc"/><circle cx="186.8" cy="41.8" r="0.5" fill="#5a6cc4"/><circle cx="189.0" cy="28.4" r="0.5" fill="#5a6cc4"/><circle cx="188.9" cy="69.9" r="0.5" fill="#5a6cc4"/><circle cx="184.7" cy="70.3" r="0.5" fill="#7a88d0"/><circle cx="188.5" cy="71.3" r="0.5" fill="#5a6cc4"/><circle cx="204.8" cy="67.3" r="0.5" fill="#5a6cc4"/><circle cx="203.5" cy="66.6" r="0.5" fill="#7a88d0"/><circle cx="202.7" cy="68.5" r="0.5" fill="#7a88d0"/><circle cx="189.4" cy="29.8" r="0.5" fill="#9aa6dc"/><circle cx="211.3" cy="29.4" r="0.5" fill="#9aa6dc"/><circle cx="187.3" cy="45.9" r="0.5" fill="#7a88d0"/><circle cx="193.5" cy="21.3" r="0.5" fill="#7a88d0"/><circle cx="189.8" cy="30.2" r="0.5" fill="#9aa6dc"/><circle cx="194.1" cy="69.8" r="0.5" fill="#7a88d0"/>
<path d="M199.69,17.7 C201.89,17.33 203.54,18.52 205.19,19.9 C206.84,21.27 208.51,23.29 209.59,25.95 C210.67,28.61 211.37,32.37 211.68,35.85 C211.99,39.33 211.62,43.55 211.46,46.85 C211.30,50.15 211.04,53.27 210.69,55.65 C210.34,58.03 210.19,59.41 209.37,61.15 C208.55,62.89 207.45,64.63 205.74,66.1 C204.03,67.57 201.52,68.98 199.14,69.95 C196.76,70.92 193.86,71.71 191.44,71.93 C189.02,72.15 186.09,71.97 184.62,71.27 C183.15,70.57 182.68,69.25 182.64,67.75 C182.60,66.25 183.70,64.45 184.4,62.25 C185.10,60.05 186.34,57.67 186.82,54.55 C187.30,51.43 187.08,47.40 187.26,43.55 C187.44,39.70 187.13,35.02 187.92,31.45 C188.71,27.88 190.03,24.39 191.99,22.1 C193.95,19.81 197.49,18.07 199.69,17.7 Z" fill="#7080d0" filter="url(#b1)" opacity="0.45"/>
<path d="M199.5,20.5 C201.50,20.17 203.00,21.25 204.5,22.5 C206.00,23.75 207.52,25.58 208.5,28 C209.48,30.42 210.12,33.83 210.4,37 C210.68,40.17 210.35,44.00 210.2,47 C210.05,50.00 209.82,52.83 209.5,55 C209.18,57.17 209.05,58.42 208.3,60 C207.55,61.58 206.55,63.17 205,64.5 C203.45,65.83 201.17,67.12 199,68 C196.83,68.88 194.20,69.60 192,69.8 C189.80,70.00 187.13,69.83 185.8,69.2 C184.47,68.57 184.03,67.37 184,66 C183.97,64.63 184.97,63.00 185.6,61 C186.23,59.00 187.37,56.83 187.8,54 C188.23,51.17 188.03,47.50 188.2,44 C188.37,40.50 188.08,36.25 188.8,33 C189.52,29.75 190.72,26.58 192.5,24.5 C194.28,22.42 197.50,20.83 199.5,20.5 Z" fill="url(#gA2)" filter="url(#spk)" opacity="1"/>
<ellipse cx="193.4" cy="37.5" rx="2.8" ry="5.5" transform="rotate(5 193.4 37.5)" fill="#40b0b8" filter="url(#b2)" opacity="0.85"/>
<ellipse cx="199.3" cy="60.8" rx="9.2" ry="3.8" transform="rotate(-23 199.3 60.8)" fill="#3fa6e0" filter="url(#b2)" opacity="1"/>
<ellipse cx="199.5" cy="60.6" rx="7.8" ry="2.7" transform="rotate(-23 199.5 60.6)" fill="#78d050" filter="url(#b2)" opacity="1"/>
<ellipse cx="192.6" cy="65.2" rx="5.0" ry="2.2" transform="rotate(-8 192.6 65.2)" fill="#e8c830" filter="url(#b3)" opacity="1"/>
<ellipse cx="192.3" cy="65.6" rx="2.8" ry="1.3" transform="rotate(-5 192.3 65.6)" fill="#d83010" filter="url(#b3)" opacity="1"/>
<circle cx="362.3" cy="36.9" r="0.5" fill="#9aa6dc"/><circle cx="344.3" cy="75.2" r="0.5" fill="#5a6cc4"/><circle cx="345.0" cy="45.7" r="0.5" fill="#5a6cc4"/><circle cx="344.7" cy="75.0" r="0.5" fill="#9aa6dc"/><circle cx="347.5" cy="38.0" r="0.5" fill="#9aa6dc"/><circle cx="352.0" cy="82.2" r="0.5" fill="#7a88d0"/><circle cx="357.9" cy="29.9" r="0.5" fill="#7a88d0"/><circle cx="349.7" cy="83.4" r="0.5" fill="#9aa6dc"/><circle cx="355.5" cy="79.5" r="0.5" fill="#5a6cc4"/><circle cx="346.0" cy="80.0" r="0.5" fill="#9aa6dc"/><circle cx="361.1" cy="32.1" r="0.5" fill="#9aa6dc"/><circle cx="364.8" cy="62.8" r="0.5" fill="#9aa6dc"/><circle cx="359.1" cy="77.5" r="0.5" fill="#7a88d0"/><circle cx="364.9" cy="65.3" r="0.5" fill="#5a6cc4"/><circle cx="363.8" cy="36.5" r="0.5" fill="#5a6cc4"/><circle cx="342.4" cy="60.4" r="0.5" fill="#7a88d0"/><circle cx="351.6" cy="32.5" r="0.5" fill="#9aa6dc"/><circle cx="363.8" cy="36.0" r="0.5" fill="#7a88d0"/><circle cx="365.2" cy="49.1" r="0.5" fill="#9aa6dc"/><circle cx="359.7" cy="76.4" r="0.5" fill="#9aa6dc"/><circle cx="358.5" cy="78.3" r="0.5" fill="#7a88d0"/><circle cx="341.4" cy="65.0" r="0.5" fill="#9aa6dc"/><circle cx="342.6" cy="49.2" r="0.5" fill="#9aa6dc"/><circle cx="345.0" cy="75.1" r="0.5" fill="#9aa6dc"/><circle cx="356.8" cy="78.6" r="0.5" fill="#5a6cc4"/><circle cx="364.9" cy="48.1" r="0.5" fill="#7a88d0"/><circle cx="365.3" cy="61.4" r="0.5" fill="#7a88d0"/><circle cx="343.3" cy="73.6" r="0.5" fill="#7a88d0"/><circle cx="346.0" cy="38.8" r="0.5" fill="#9aa6dc"/><circle cx="365.2" cy="56.2" r="0.5" fill="#7a88d0"/><circle cx="343.1" cy="46.4" r="0.5" fill="#7a88d0"/><circle cx="361.1" cy="74.3" r="0.5" fill="#7a88d0"/><circle cx="346.3" cy="38.8" r="0.5" fill="#7a88d0"/><circle cx="355.5" cy="30.3" r="0.5" fill="#7a88d0"/><circle cx="360.6" cy="72.1" r="0.5" fill="#7a88d0"/><circle cx="365.3" cy="50.2" r="0.5" fill="#7a88d0"/><circle cx="344.7" cy="41.1" r="0.5" fill="#7a88d0"/><circle cx="366.4" cy="52.8" r="0.5" fill="#5a6cc4"/><circle cx="343.6" cy="44.9" r="0.5" fill="#7a88d0"/><circle cx="342.5" cy="69.2" r="0.5" fill="#5a6cc4"/><circle cx="342.1" cy="51.5" r="0.5" fill="#5a6cc4"/><circle cx="359.9" cy="31.9" r="0.5" fill="#5a6cc4"/><circle cx="348.0" cy="39.1" r="0.5" fill="#5a6cc4"/><circle cx="342.0" cy="67.8" r="0.5" fill="#9aa6dc"/><circle cx="356.6" cy="29.1" r="0.5" fill="#9aa6dc"/><circle cx="342.9" cy="48.6" r="0.5" fill="#7a88d0"/><circle cx="366.0" cy="56.3" r="0.5" fill="#9aa6dc"/><circle cx="344.5" cy="42.3" r="0.5" fill="#7a88d0"/><circle cx="346.9" cy="38.9" r="0.5" fill="#7a88d0"/><circle cx="350.2" cy="34.0" r="0.5" fill="#7a88d0"/><circle cx="348.3" cy="35.6" r="0.5" fill="#5a6cc4"/><circle cx="347.0" cy="41.4" r="0.5" fill="#9aa6dc"/><circle cx="365.6" cy="50.4" r="0.5" fill="#5a6cc4"/><circle cx="342.4" cy="49.0" r="0.5" fill="#5a6cc4"/><circle cx="352.4" cy="83.4" r="0.5" fill="#5a6cc4"/><circle cx="342.4" cy="57.6" r="0.5" fill="#9aa6dc"/><circle cx="365.5" cy="42.7" r="0.5" fill="#5a6cc4"/><circle cx="367.1" cy="54.0" r="0.5" fill="#7a88d0"/><circle cx="355.2" cy="80.2" r="0.5" fill="#9aa6dc"/><circle cx="343.2" cy="61.6" r="0.5" fill="#7a88d0"/>
<path d="M356.21,27.69 C357.98,27.41 359.33,28.90 360.69,30.49 C362.05,32.08 363.47,34.50 364.39,37.21 C365.31,39.92 365.86,43.65 366.18,46.73 C366.50,49.81 366.42,52.89 366.29,55.69 C366.16,58.49 366.03,61.10 365.4,63.53 C364.76,65.96 363.56,68.01 362.48,70.25 C361.40,72.49 360.13,74.92 358.9,76.97 C357.67,79.02 356.28,81.22 355.09,82.57 C353.89,83.91 352.93,84.95 351.73,85.04 C350.54,85.13 349.12,84.29 347.92,83.13 C346.73,81.97 345.45,80.05 344.56,78.09 C343.67,76.13 343.00,73.98 342.55,71.37 C342.10,68.76 341.88,65.77 341.88,62.41 C341.88,59.05 341.99,54.76 342.55,51.21 C343.11,47.66 343.99,44.30 345.24,41.13 C346.49,37.96 348.22,34.41 350.05,32.17 C351.88,29.93 354.44,27.97 356.21,27.69 Z" fill="#7080d0" filter="url(#b1)" opacity="0.55"/>
<path d="M356,31 C357.58,30.75 358.78,32.08 360,33.5 C361.22,34.92 362.48,37.08 363.3,39.5 C364.12,41.92 364.62,45.25 364.9,48 C365.18,50.75 365.12,53.50 365.0,56 C364.88,58.50 364.77,60.83 364.2,63 C363.63,65.17 362.57,67.00 361.6,69 C360.63,71.00 359.50,73.17 358.4,75 C357.30,76.83 356.07,78.80 355,80 C353.93,81.20 353.07,82.12 352,82.2 C350.93,82.28 349.67,81.53 348.6,80.5 C347.53,79.47 346.40,77.75 345.6,76 C344.80,74.25 344.20,72.33 343.8,70 C343.40,67.67 343.20,65.00 343.2,62 C343.20,59.00 343.30,55.17 343.8,52 C344.30,48.83 345.08,45.83 346.2,43 C347.32,40.17 348.87,37.00 350.5,35 C352.13,33.00 354.42,31.25 356,31 Z" fill="url(#gC1)" filter="url(#spk2)" opacity="1"/>
<ellipse cx="351.2" cy="59" rx="4.4" ry="7.0" transform="rotate(3 351.2 59)" fill="#62bce0" filter="url(#b1)" opacity="0.9"/>
<ellipse cx="349.2" cy="56.5" rx="1.8" ry="2.6" transform="rotate(0 349.2 56.5)" fill="#b0e4f0" filter="url(#b2)" opacity="0.8"/>
<ellipse cx="357.8" cy="65.2" rx="3.6" ry="1.1" transform="rotate(-18 357.8 65.2)" fill="#7aa6e8" filter="url(#b3)" opacity="0.8"/>
<ellipse cx="351" cy="65.5" rx="3.6" ry="3.6" transform="rotate(0 351 65.5)" fill="#7ccc6c" filter="url(#b2)" opacity="1"/>
<ellipse cx="350.5" cy="71.9" rx="3.6" ry="3.6" transform="rotate(0 350.5 71.9)" fill="#90cc50" filter="url(#b3)" opacity="1"/>
<ellipse cx="350.5" cy="72.0" rx="2.8" ry="2.8" transform="rotate(0 350.5 72.0)" fill="#e4d030" filter="url(#b3)" opacity="1"/>
<ellipse cx="350.5" cy="72.1" rx="1.2" ry="1.2" transform="rotate(0 350.5 72.1)" fill="#502010" filter="url(#b3)" opacity="1"/>
<circle cx="475.4" cy="82.9" r="0.5" fill="#5a6cc4"/><circle cx="485.2" cy="45.5" r="0.5" fill="#9aa6dc"/><circle cx="485.7" cy="44.4" r="0.5" fill="#7a88d0"/><circle cx="482.4" cy="41.4" r="0.5" fill="#7a88d0"/><circle cx="487.4" cy="54.6" r="0.5" fill="#9aa6dc"/><circle cx="473.9" cy="82.6" r="0.5" fill="#9aa6dc"/><circle cx="468.7" cy="82.9" r="0.5" fill="#9aa6dc"/><circle cx="459.9" cy="62.2" r="0.5" fill="#5a6cc4"/><circle cx="472.8" cy="35.4" r="0.5" fill="#9aa6dc"/><circle cx="461.5" cy="52.5" r="0.5" fill="#5a6cc4"/><circle cx="478.6" cy="80.8" r="0.5" fill="#7a88d0"/><circle cx="483.8" cy="42.0" r="0.5" fill="#5a6cc4"/><circle cx="469.8" cy="37.1" r="0.5" fill="#5a6cc4"/><circle cx="486.2" cy="68.6" r="0.5" fill="#9aa6dc"/><circle cx="463.3" cy="48.1" r="0.5" fill="#9aa6dc"/><circle cx="471.2" cy="36.4" r="0.5" fill="#9aa6dc"/><circle cx="459.7" cy="54.4" r="0.5" fill="#7a88d0"/><circle cx="482.0" cy="38.8" r="0.5" fill="#7a88d0"/><circle cx="459.4" cy="65.5" r="0.5" fill="#9aa6dc"/><circle cx="465.3" cy="41.5" r="0.5" fill="#9aa6dc"/><circle cx="488.3" cy="58.7" r="0.5" fill="#7a88d0"/><circle cx="466.0" cy="42.2" r="0.5" fill="#5a6cc4"/><circle cx="459.2" cy="74.5" r="0.5" fill="#7a88d0"/><circle cx="480.4" cy="38.0" r="0.5" fill="#5a6cc4"/><circle cx="489.2" cy="60.7" r="0.5" fill="#5a6cc4"/><circle cx="470.5" cy="37.7" r="0.5" fill="#7a88d0"/><circle cx="461.1" cy="48.1" r="0.5" fill="#9aa6dc"/><circle cx="481.9" cy="41.3" r="0.5" fill="#9aa6dc"/><circle cx="484.3" cy="73.1" r="0.5" fill="#5a6cc4"/><circle cx="486.8" cy="54.7" r="0.5" fill="#9aa6dc"/><circle cx="472.5" cy="36.1" r="0.5" fill="#9aa6dc"/><circle cx="484.7" cy="73.1" r="0.5" fill="#5a6cc4"/><circle cx="488.5" cy="65.9" r="0.5" fill="#9aa6dc"/><circle cx="466.5" cy="82.6" r="0.5" fill="#7a88d0"/><circle cx="482.1" cy="42.0" r="0.5" fill="#9aa6dc"/><circle cx="467.9" cy="39.0" r="0.5" fill="#5a6cc4"/><circle cx="488.9" cy="62.2" r="0.5" fill="#7a88d0"/><circle cx="461.2" cy="47.9" r="0.5" fill="#9aa6dc"/><circle cx="487.5" cy="66.7" r="0.5" fill="#5a6cc4"/><circle cx="478.7" cy="37.3" r="0.5" fill="#9aa6dc"/><circle cx="459.3" cy="73.0" r="0.5" fill="#7a88d0"/><circle cx="482.8" cy="75.8" r="0.5" fill="#9aa6dc"/><circle cx="465.6" cy="40.3" r="0.5" fill="#5a6cc4"/><circle cx="484.5" cy="46.3" r="0.5" fill="#7a88d0"/><circle cx="459.7" cy="62.3" r="0.5" fill="#9aa6dc"/><circle cx="470.9" cy="35.9" r="0.5" fill="#7a88d0"/><circle cx="472.2" cy="83.0" r="0.5" fill="#7a88d0"/><circle cx="480.5" cy="78.9" r="0.5" fill="#7a88d0"/><circle cx="461.0" cy="49.9" r="0.5" fill="#5a6cc4"/><circle cx="460.9" cy="74.8" r="0.5" fill="#9aa6dc"/><circle cx="488.0" cy="57.9" r="0.5" fill="#9aa6dc"/><circle cx="484.8" cy="44.7" r="0.5" fill="#9aa6dc"/><circle cx="485.2" cy="46.3" r="0.5" fill="#7a88d0"/><circle cx="471.0" cy="35.7" r="0.5" fill="#7a88d0"/><circle cx="458.9" cy="63.7" r="0.5" fill="#7a88d0"/><circle cx="462.6" cy="79.8" r="0.5" fill="#7a88d0"/><circle cx="459.8" cy="64.2" r="0.5" fill="#7a88d0"/><circle cx="477.2" cy="35.0" r="0.5" fill="#9aa6dc"/><circle cx="463.1" cy="81.0" r="0.5" fill="#9aa6dc"/><circle cx="460.7" cy="65.1" r="0.5" fill="#9aa6dc"/>
<path d="M474.62,32.53 C476.39,32.53 477.98,34.30 479.66,35.89 C481.34,37.48 483.34,39.53 484.7,42.05 C486.06,44.57 487.12,47.84 487.83,51.01 C488.54,54.18 488.91,58.10 488.95,61.09 C488.99,64.08 488.77,66.41 488.06,68.93 C487.35,71.45 486.19,74.06 484.7,76.21 C483.21,78.36 481.25,80.35 479.1,81.81 C476.95,83.27 474.15,84.52 471.82,84.95 C469.49,85.38 466.97,85.19 465.1,84.39 C463.23,83.59 461.63,82.15 460.62,80.13 C459.61,78.11 459.28,75.28 459.05,72.29 C458.82,69.30 459.05,65.57 459.27,62.21 C459.49,58.85 459.70,55.40 460.39,52.13 C461.08,48.86 461.98,45.32 463.42,42.61 C464.86,39.90 467.15,37.57 469.02,35.89 C470.89,34.21 472.85,32.53 474.62,32.53 Z" fill="#7080d0" filter="url(#b1)" opacity="0.55"/>
<path d="M474.5,35.5 C476.08,35.50 477.50,37.08 479,38.5 C480.50,39.92 482.28,41.75 483.5,44 C484.72,46.25 485.67,49.17 486.3,52 C486.93,54.83 487.27,58.33 487.3,61 C487.33,63.67 487.13,65.75 486.5,68 C485.87,70.25 484.83,72.58 483.5,74.5 C482.17,76.42 480.42,78.20 478.5,79.5 C476.58,80.80 474.08,81.92 472,82.3 C469.92,82.68 467.67,82.52 466,81.8 C464.33,81.08 462.90,79.80 462,78 C461.10,76.20 460.80,73.67 460.6,71 C460.40,68.33 460.60,65.00 460.8,62 C461.00,59.00 461.18,55.92 461.8,53 C462.42,50.08 463.22,46.92 464.5,44.5 C465.78,42.08 467.83,40.00 469.5,38.5 C471.17,37.00 472.92,35.50 474.5,35.5 Z" fill="url(#gC2)" filter="url(#spk2)" opacity="1"/>
<ellipse cx="471.8" cy="66.0" rx="5.6" ry="1.9" transform="rotate(-3 471.8 66.0)" fill="#a8dcf0" filter="url(#b3)" opacity="0.95"/>
<ellipse cx="470.2" cy="72.4" rx="4.6" ry="4.6" transform="rotate(0 470.2 72.4)" fill="#58b884" filter="url(#b2)" opacity="1"/>
<ellipse cx="470.2" cy="72.4" rx="3.0" ry="3.0" transform="rotate(0 470.2 72.4)" fill="#d4e040" filter="url(#b3)" opacity="1"/>
<ellipse cx="470.2" cy="72.5" rx="1.0" ry="1.0" transform="rotate(0 470.2 72.5)" fill="#302010" filter="url(#b3)" opacity="1"/>
<line x1="61.9" y1="160.5" x2="61.9" y2="272.6" stroke="#000" stroke-width="1.6"/>
<line x1="61.1" y1="271.9" x2="229.2" y2="271.9" stroke="#000" stroke-width="1.6"/>
<line x1="58.4" y1="161.2" x2="61.9" y2="161.2" stroke="#000" stroke-width="1.3"/>
<text x="57.6" y="164.2" font-size="8.6" text-anchor="end" font-weight="bold" fill="#000" stroke="#000" stroke-width="0.12">30</text>
<line x1="58.4" y1="198.1" x2="61.9" y2="198.1" stroke="#000" stroke-width="1.3"/>
<text x="57.6" y="201.1" font-size="8.6" text-anchor="end" font-weight="bold" fill="#000" stroke="#000" stroke-width="0.12">20</text>
<line x1="58.4" y1="235.0" x2="61.9" y2="235.0" stroke="#000" stroke-width="1.3"/>
<text x="57.6" y="238.0" font-size="8.6" text-anchor="end" font-weight="bold" fill="#000" stroke="#000" stroke-width="0.12">10</text>
<line x1="58.4" y1="271.9" x2="61.9" y2="271.9" stroke="#000" stroke-width="1.3"/>
<text x="57.6" y="274.9" font-size="8.6" text-anchor="end" font-weight="bold" fill="#000" stroke="#000" stroke-width="0.12">0</text>
<line x1="103.8" y1="272" x2="103.8" y2="275.2" stroke="#000" stroke-width="1.2"/>
<line x1="186.8" y1="272" x2="186.8" y2="275.2" stroke="#000" stroke-width="1.2"/>
<text transform="translate(41.3,216.9) rotate(-90)" font-size="10.5" text-anchor="middle" stroke="#000" stroke-width="0.12">% BrdU+ of CD41+</text>
<rect x="75.8" y="232.4" width="55.8" height="39.5" fill="#3f6db8" stroke="#000" stroke-width="1.6"/>
<line x1="103.8" y1="232.3" x2="103.8" y2="224.5" stroke="#000" stroke-width="1.3"/>
<line x1="89.6" y1="224.5" x2="118.0" y2="224.5" stroke="#000" stroke-width="1.3"/>
<rect x="159.3" y="171.3" width="55.6" height="100.6" fill="#d0232a" stroke="#000" stroke-width="1.6"/>
<line x1="186.8" y1="171.3" x2="186.8" y2="165" stroke="#000" stroke-width="1.3"/>
<line x1="173" y1="165" x2="201" y2="165" stroke="#000" stroke-width="1.3"/>
<text x="187" y="165.8" font-size="13.5" text-anchor="middle" fill="#222" stroke="#222" stroke-width="0.12">***</text>
<text x="104.2" y="291.8" font-size="13" text-anchor="middle" fill="#000" stroke="#000" stroke-width="0.12">WT</text>
<text x="163.0" y="291.8" font-size="13" font-style="italic" fill="#000" stroke="#000" stroke-width="0.12">Aurka -/-</text>
<line x1="328.8" y1="153.3" x2="328.8" y2="272.6" stroke="#000" stroke-width="1.6"/>
<line x1="328.0" y1="271.9" x2="508.9" y2="271.9" stroke="#000" stroke-width="1.6"/>
<line x1="324.4" y1="153.6" x2="328.8" y2="153.6" stroke="#000" stroke-width="1.3"/>
<text x="324.2" y="156.6" font-size="8.6" text-anchor="end" font-weight="bold" fill="#000" stroke="#000" stroke-width="0.12">45</text>
<line x1="324.4" y1="166.7" x2="328.8" y2="166.7" stroke="#000" stroke-width="1.3"/>
<text x="324.2" y="169.7" font-size="8.6" text-anchor="end" font-weight="bold" fill="#000" stroke="#000" stroke-width="0.12">40</text>
<line x1="324.4" y1="179.8" x2="328.8" y2="179.8" stroke="#000" stroke-width="1.3"/>
<text x="324.2" y="182.8" font-size="8.6" text-anchor="end" font-weight="bold" fill="#000" stroke="#000" stroke-width="0.12">35</text>
<line x1="324.4" y1="192.9" x2="328.8" y2="192.9" stroke="#000" stroke-width="1.3"/>
<text x="324.2" y="195.9" font-size="8.6" text-anchor="end" font-weight="bold" fill="#000" stroke="#000" stroke-width="0.12">30</text>
<line x1="324.4" y1="206.0" x2="328.8" y2="206.0" stroke="#000" stroke-width="1.3"/>
<text x="324.2" y="209.0" font-size="8.6" text-anchor="end" font-weight="bold" fill="#000" stroke="#000" stroke-width="0.12">25</text>
<line x1="324.4" y1="219.1" x2="328.8" y2="219.1" stroke="#000" stroke-width="1.3"/>
<text x="324.2" y="222.1" font-size="8.6" text-anchor="end" font-weight="bold" fill="#000" stroke="#000" stroke-width="0.12">20</text>
<line x1="324.4" y1="232.2" x2="328.8" y2="232.2" stroke="#000" stroke-width="1.3"/>
<text x="324.2" y="235.2" font-size="8.6" text-anchor="end" font-weight="bold" fill="#000" stroke="#000" stroke-width="0.12">15</text>
<line x1="324.4" y1="245.3" x2="328.8" y2="245.3" stroke="#000" stroke-width="1.3"/>
<text x="324.2" y="248.3" font-size="8.6" text-anchor="end" font-weight="bold" fill="#000" stroke="#000" stroke-width="0.12">10</text>
<line x1="324.4" y1="258.4" x2="328.8" y2="258.4" stroke="#000" stroke-width="1.3"/>
<text x="324.2" y="261.4" font-size="8.6" text-anchor="end" font-weight="bold" fill="#000" stroke="#000" stroke-width="0.12">5</text>
<line x1="324.4" y1="271.5" x2="328.8" y2="271.5" stroke="#000" stroke-width="1.3"/>
<text x="324.2" y="274.5" font-size="8.6" text-anchor="end" font-weight="bold" fill="#000" stroke="#000" stroke-width="0.12">0</text>
<line x1="373.5" y1="272" x2="373.5" y2="275.2" stroke="#000" stroke-width="1.2"/>
<line x1="462.5" y1="272" x2="462.5" y2="275.2" stroke="#000" stroke-width="1.2"/>
<text transform="translate(303.8,213.3) rotate(-90)" font-size="12.6" text-anchor="middle" stroke="#000" stroke-width="0.12">% Brdu+ of Gr1+/Mac+</text>
<rect x="343.4" y="166" width="59.4" height="105.9" fill="#3f6db8" stroke="#000" stroke-width="1.6"/>
<line x1="358.3" y1="164.6" x2="388.6" y2="164.6" stroke="#000" stroke-width="1.3"/>
<rect x="433.1" y="206.8" width="60.8" height="65.1" fill="#d0232a" stroke="#000" stroke-width="1.6"/>
<line x1="462.8" y1="206.8" x2="462.8" y2="202.4" stroke="#000" stroke-width="1.3"/>
<line x1="447.8" y1="202.4" x2="478" y2="202.4" stroke="#000" stroke-width="1.3"/>
<text x="463.2" y="204.4" font-size="13.5" text-anchor="middle" fill="#222" stroke="#222" stroke-width="0.12">***</text>
<text x="371.9" y="291.6" font-size="13" text-anchor="middle" fill="#000" stroke="#000" stroke-width="0.12">WT</text>
<text x="440.2" y="291.2" font-size="13" font-style="italic" fill="#000" stroke="#000" stroke-width="0.12">Aurka -/-</text>
<line x1="30.5" y1="320.9" x2="30.5" y2="452.3" stroke="#666" stroke-width="1"/>
<line x1="30.5" y1="452.3" x2="263.8" y2="452.3" stroke="#666" stroke-width="1"/>
<text x="25.8" y="323.1" font-size="7.2" text-anchor="end" font-weight="bold" fill="#222" stroke="#222" stroke-width="0.12">60</text>
<text x="25.8" y="345.1" font-size="7.2" text-anchor="end" font-weight="bold" fill="#222" stroke="#222" stroke-width="0.12">50</text>
<text x="25.8" y="367.0" font-size="7.2" text-anchor="end" font-weight="bold" fill="#222" stroke="#222" stroke-width="0.12">40</text>
<text x="25.8" y="389.0" font-size="7.2" text-anchor="end" font-weight="bold" fill="#222" stroke="#222" stroke-width="0.12">30</text>
<text x="25.8" y="410.9" font-size="7.2" text-anchor="end" font-weight="bold" fill="#222" stroke="#222" stroke-width="0.12">20</text>
<text x="25.8" y="432.9" font-size="7.2" text-anchor="end" font-weight="bold" fill="#222" stroke="#222" stroke-width="0.12">10</text>
<text x="25.8" y="454.8" font-size="7.2" text-anchor="end" font-weight="bold" fill="#222" stroke="#222" stroke-width="0.12">0</text>
<text transform="translate(9.0,388.7) rotate(-90)" font-size="9.45" text-anchor="middle" stroke="#000" stroke-width="0.12">% CD41+ cells</text>
<line x1="58.4" y1="336.8" x2="58.4" y2="344.3" stroke="#e0c8d4" stroke-width="0.8"/>
<line x1="80.7" y1="358.5" x2="80.7" y2="362" stroke="#e0c8d4" stroke-width="0.8"/>
<rect x="49.4" y="344.3" width="18.000000000000007" height="108.0" fill="#4472c4" stroke="#10204a" stroke-width="1.1"/>
<rect x="72.1" y="362.0" width="17.30000000000001" height="90.30000000000001" fill="#dd0000" stroke="#300000" stroke-width="1.1"/>
<line x1="135.6" y1="415" x2="135.6" y2="417.3" stroke="#e0c8d4" stroke-width="0.8"/>
<line x1="158.7" y1="417" x2="158.7" y2="419.3" stroke="#e0c8d4" stroke-width="0.8"/>
<rect x="127.1" y="417.3" width="17.30000000000001" height="35.0" fill="#4472c4" stroke="#10204a" stroke-width="1.1"/>
<rect x="149.8" y="419.3" width="17.899999999999977" height="33.0" fill="#dd0000" stroke="#300000" stroke-width="1.1"/>
<line x1="213.8" y1="370.3" x2="213.8" y2="376.5" stroke="#e0c8d4" stroke-width="0.8"/>
<line x1="236.0" y1="351.8" x2="236.0" y2="356.5" stroke="#e0c8d4" stroke-width="0.8"/>
<rect x="205.1" y="376.5" width="17.5" height="75.80000000000001" fill="#4472c4" stroke="#10204a" stroke-width="1.1"/>
<rect x="226.8" y="356.5" width="18.599999999999994" height="95.80000000000001" fill="#dd0000" stroke="#300000" stroke-width="1.1"/>
<text x="81.9" y="359.1" font-size="12" text-anchor="middle" font-weight="bold" fill="#000" stroke="#000" stroke-width="0.12">**</text>
<text x="236.1" y="352.1" font-size="11" text-anchor="middle" font-weight="bold" fill="#000" stroke="#000" stroke-width="0.12">*</text>
<text x="68.2" y="464.7" font-size="8.4" text-anchor="middle" fill="#000" stroke="#000" stroke-width="0.12">2N</text>
<text x="146.0" y="464.7" font-size="8.4" text-anchor="middle" fill="#000" stroke="#000" stroke-width="0.12">4N</text>
<text x="225.5" y="464.7" font-size="8.4" text-anchor="middle" fill="#000" stroke="#000" stroke-width="0.12">≥8N</text>
<rect x="123.7" y="325.0" width="3.4" height="3.2" fill="#3a5a98"/>
<rect x="123.7" y="335.3" width="3.4" height="3.2" fill="#a02020"/>
<text x="132.6" y="328.1" font-size="8.4" fill="#000" stroke="#000" stroke-width="0.12">WT</text>
<text x="133.0" y="339.4" font-size="8.4" font-style="italic" fill="#000" stroke="#000" stroke-width="0.12">Aurka -/-</text>
<rect x="309.4" y="334.3" width="94.90000000000003" height="94.19999999999999" fill="none" stroke="#7a7a7a" stroke-width="1"/>
<polyline points="309.4,334.3 309.4,428.5 404.3,428.5" fill="none" stroke="#606060" stroke-width="1.1"/>
<rect x="423.5" y="334.3" width="93.89999999999998" height="94.19999999999999" fill="none" stroke="#7a7a7a" stroke-width="1"/>
<polyline points="423.5,334.3 423.5,428.5 517.4,428.5" fill="none" stroke="#606060" stroke-width="1.1"/>
<text x="305.6" y="342.5" font-size="5" text-anchor="end" fill="#555" stroke="#555" stroke-width="0.12">300</text>
<line x1="307.4" y1="340.7" x2="309.4" y2="340.7" stroke="#888" stroke-width="0.8"/>
<text x="305.6" y="372.0" font-size="5" text-anchor="end" fill="#555" stroke="#555" stroke-width="0.12">200</text>
<line x1="307.4" y1="370.2" x2="309.4" y2="370.2" stroke="#888" stroke-width="0.8"/>
<text x="305.6" y="401.1" font-size="5" text-anchor="end" fill="#555" stroke="#555" stroke-width="0.12">100</text>
<line x1="307.4" y1="399.3" x2="309.4" y2="399.3" stroke="#888" stroke-width="0.8"/>
<text x="305.6" y="429.8" font-size="5" text-anchor="end" fill="#555" stroke="#555" stroke-width="0.12">0</text>
<line x1="307.4" y1="428.0" x2="309.4" y2="428.0" stroke="#888" stroke-width="0.8"/>
<text x="419.8" y="352.0" font-size="5" text-anchor="end" fill="#555" stroke="#555" stroke-width="0.12">150</text>
<line x1="421.5" y1="350.2" x2="423.5" y2="350.2" stroke="#888" stroke-width="0.8"/>
<text x="419.8" y="377.8" font-size="5" text-anchor="end" fill="#555" stroke="#555" stroke-width="0.12">100</text>
<line x1="421.5" y1="376.0" x2="423.5" y2="376.0" stroke="#888" stroke-width="0.8"/>
<text x="419.8" y="404.3" font-size="5" text-anchor="end" fill="#555" stroke="#555" stroke-width="0.12">50</text>
<line x1="421.5" y1="402.5" x2="423.5" y2="402.5" stroke="#888" stroke-width="0.8"/>
<text x="419.8" y="429.8" font-size="5" text-anchor="end" fill="#555" stroke="#555" stroke-width="0.12">0</text>
<line x1="421.5" y1="428.0" x2="423.5" y2="428.0" stroke="#888" stroke-width="0.8"/>
<text x="315.3" y="436.6" font-size="5.0" fill="#5a5a5a" text-anchor="middle" stroke="#5a5a5a" stroke-width="0.12">0</text>
<line x1="315.3" y1="428.5" x2="315.3" y2="430.5" stroke="#777" stroke-width="0.9"/>
<text x="331.5" y="436.6" font-size="5.0" fill="#5a5a5a" text-anchor="middle" stroke="#5a5a5a" stroke-width="0.12">10<tspan font-size="3.40" dy="-2">2</tspan></text>
<line x1="331.5" y1="428.5" x2="331.5" y2="430.5" stroke="#777" stroke-width="0.9"/>
<text x="353.6" y="436.6" font-size="5.0" fill="#5a5a5a" text-anchor="middle" stroke="#5a5a5a" stroke-width="0.12">10<tspan font-size="3.40" dy="-2">3</tspan></text>
<line x1="353.6" y1="428.5" x2="353.6" y2="430.5" stroke="#777" stroke-width="0.9"/>
<text x="374.7" y="436.6" font-size="5.0" fill="#5a5a5a" text-anchor="middle" stroke="#5a5a5a" stroke-width="0.12">10<tspan font-size="3.40" dy="-2">4</tspan></text>
<line x1="374.7" y1="428.5" x2="374.7" y2="430.5" stroke="#777" stroke-width="0.9"/>
<text x="395.0" y="436.6" font-size="5.0" fill="#5a5a5a" text-anchor="middle" stroke="#5a5a5a" stroke-width="0.12">10<tspan font-size="3.40" dy="-2">5</tspan></text>
<line x1="395.0" y1="428.5" x2="395.0" y2="430.5" stroke="#777" stroke-width="0.9"/>
<text x="430.2" y="436.6" font-size="5.0" fill="#5a5a5a" text-anchor="middle" stroke="#5a5a5a" stroke-width="0.12">0</text>
<line x1="430.2" y1="428.5" x2="430.2" y2="430.5" stroke="#777" stroke-width="0.9"/>
<text x="445.0" y="436.6" font-size="5.0" fill="#5a5a5a" text-anchor="middle" stroke="#5a5a5a" stroke-width="0.12">10<tspan font-size="3.40" dy="-2">2</tspan></text>
<line x1="445.0" y1="428.5" x2="445.0" y2="430.5" stroke="#777" stroke-width="0.9"/>
<text x="466.8" y="436.6" font-size="5.0" fill="#5a5a5a" text-anchor="middle" stroke="#5a5a5a" stroke-width="0.12">10<tspan font-size="3.40" dy="-2">3</tspan></text>
<line x1="466.8" y1="428.5" x2="466.8" y2="430.5" stroke="#777" stroke-width="0.9"/>
<text x="488.2" y="436.6" font-size="5.0" fill="#5a5a5a" text-anchor="middle" stroke="#5a5a5a" stroke-width="0.12">10<tspan font-size="3.40" dy="-2">4</tspan></text>
<line x1="488.2" y1="428.5" x2="488.2" y2="430.5" stroke="#777" stroke-width="0.9"/>
<text x="508.4" y="436.6" font-size="5.0" fill="#5a5a5a" text-anchor="middle" stroke="#5a5a5a" stroke-width="0.12">10<tspan font-size="3.40" dy="-2">5</tspan></text>
<line x1="508.4" y1="428.5" x2="508.4" y2="430.5" stroke="#777" stroke-width="0.9"/>
<polyline points="342.2,428.3 343.4,416.4 344.5,404 345.4,394 346.2,382 346.8,372 347.4,360 347.9,350 348.4,342 348.8,339.2 349.4,340.5 350.2,348 351.0,365 352.0,386 352.9,395.8 353.7,390 354.5,386.5 355.3,392 356.2,403 357.2,410.2 358.2,404.5 359.3,402 360.5,405 361.8,408.2 363.2,403 364.8,400 365.8,404 366.9,411.3 368.5,414.2 370,416.4 371.5,418.5 373.1,420.5 375.5,423.4 378,425.4 381,426.8 386,427.8 392,428.3 404.3,428.3" fill="none" stroke="#858585" stroke-width="1.15" stroke-linejoin="round"/>
<polyline points="455.1,428.3 456.2,422 457.2,416.3 458.3,396 459.3,375.2 460.0,364 460.7,354.6 461.5,345 462.3,339.8 463.2,346 464.4,364.9 465.2,380 465.8,390 466.4,394.7 467.2,388 468.1,382.4 468.9,394 470,405 471.3,400 472.6,397.8 473.7,401 474.7,405 476.3,398 477.8,390 479.4,385.4 480.2,394 480.9,401.9 482.9,409.1 484.5,411.5 486,413.2 487.5,414.5 489.1,416.3 491,418.5 493.2,421.4 495.3,423.3 497.3,424.5 500,426.5 504,427.8 508,428.3 517.4,428.3" fill="none" stroke="#858585" stroke-width="1.15" stroke-linejoin="round"/>
<line x1="356.8" y1="388.6" x2="404.3" y2="388.6" stroke="#555" stroke-width="1.3"/>
<line x1="356.8" y1="385.6" x2="356.8" y2="391.6" stroke="#555" stroke-width="0.9"/>
<line x1="470.3" y1="388.7" x2="517.4" y2="388.7" stroke="#555" stroke-width="1.7"/>
<line x1="470.3" y1="386.0" x2="470.3" y2="391.4" stroke="#777" stroke-width="0.8"/>
<text x="328.6" y="346.3" font-size="9.5" fill="#000" stroke="#000" stroke-width="0.12">49.8</text>
<text x="353.0" y="377.0" font-size="9.5" fill="#000" stroke="#000" stroke-width="0.12">15.4</text>
<text x="377.2" y="385.5" font-size="9.5" fill="#000" stroke="#000" stroke-width="0.12">34.2</text>
<text x="440.9" y="346.3" font-size="9.5" fill="#000" stroke="#000" stroke-width="0.12">42.5</text>
<text x="465.4" y="377.0" font-size="9.5" fill="#000" stroke="#000" stroke-width="0.12">14.7</text>
<text x="488.8" y="385.5" font-size="9.5" fill="#000" stroke="#000" stroke-width="0.12">43.5</text>
<text x="356.2" y="327.9" font-size="11.8" text-anchor="middle" fill="#000" stroke="#000" stroke-width="0.12">WT</text>
<text x="446.3" y="328.5" font-size="12.5" font-style="italic" fill="#000" stroke="#000" stroke-width="0.12">Aurka -/-</text>
<line x1="290.7" y1="439.4" x2="290.7" y2="391.5" stroke="#000" stroke-width="1.15"/>
<polygon points="290.7,386.5 288.0,392.0 293.4,392.0" fill="#000"/>
<line x1="298.0" y1="444.6" x2="346.6" y2="444.6" stroke="#000" stroke-width="1.15"/>
<polygon points="351.6,444.6 346.1,441.90000000000003 346.1,447.3" fill="#000"/>
<text transform="translate(285.2,417.3) rotate(-90)" font-size="9.4" text-anchor="middle" stroke="#000" stroke-width="0.12"># cells</text>
<text x="309.1" y="456.0" font-size="9.3" fill="#000" stroke="#000" stroke-width="0.12">DAPI</text>
</svg>
</body></html>
